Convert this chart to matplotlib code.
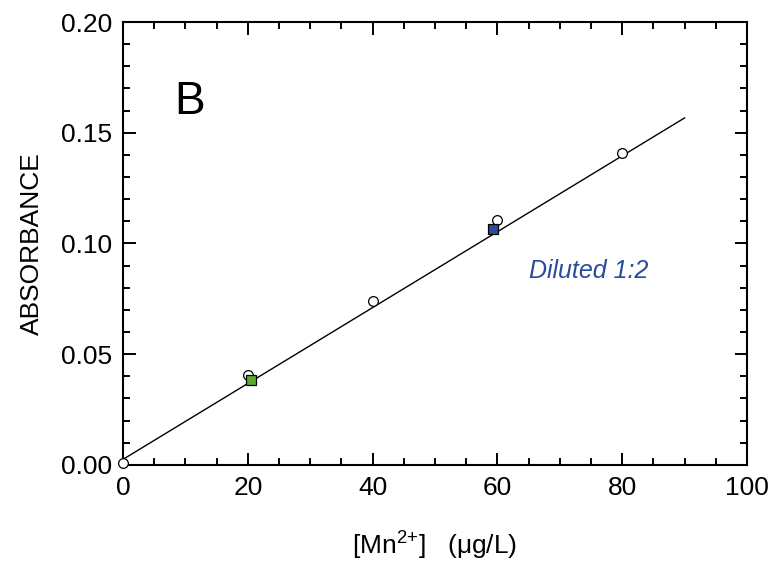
import numpy as np
import matplotlib.pyplot as plt
from matplotlib.ticker import MultipleLocator

plt.rcParams['font.family'] = ['Liberation Sans', 'DejaVu Sans']
plt.rcParams['mathtext.fontset'] = 'custom'
plt.rcParams['mathtext.rm'] = 'Liberation Sans'

# Calibration standards (open circles)
std_conc = [0, 20, 40, 60, 80]
std_abs = [0.001, 0.0405, 0.0742, 0.1106, 0.1408]

# Samples (squares)
green_conc = [20.5]
green_abs = [0.0384]
blue_conc = [59.3]
blue_abs = [0.1066]

# Fitted line end points
fit_x = [0, 90]
fit_y = [0.0025, 0.1567]

fig = plt.figure(figsize=(7.69, 5.69), dpi=100)
ax = fig.add_axes([0.16, 0.183, 0.8114, 0.7783])

ax.plot(fit_x, fit_y, color='black', lw=1.0, zorder=2)
ax.plot(std_conc, std_abs, 'o', ms=7, mfc='white', mec='black', mew=0.9,
        clip_on=False, zorder=3)
ax.plot(green_conc, green_abs, 's', ms=7.5, mfc='#5aab2a', mec='black', mew=0.9, zorder=4)
ax.plot(blue_conc, blue_abs, 's', ms=7.5, mfc='#2b4b9b', mec='black', mew=0.9, zorder=4)

ax.set_xlim(0, 100)
ax.set_ylim(0, 0.20)
ax.xaxis.set_major_locator(MultipleLocator(20))
ax.xaxis.set_minor_locator(MultipleLocator(5))
ax.yaxis.set_major_locator(MultipleLocator(0.05))
ax.yaxis.set_minor_locator(MultipleLocator(0.01))
ax.yaxis.set_major_formatter(plt.FormatStrFormatter('%.2f'))

ax.tick_params(which='both', direction='in', top=True, right=True, width=1.4,
               labelsize=19)
ax.tick_params(which='major', length=9, pad=8)
ax.tick_params(which='minor', length=5)
for s in ax.spines.values():
    s.set_linewidth(1.5)

ax.set_xlabel('[Mn$^{2{+}}$]   (\u03bcg/L)', fontsize=19, labelpad=20)
ax.set_ylabel('ABSORBANCE', fontsize=19, labelpad=12)

ax.text(10.7, 0.1585, 'B', fontsize=33, ha='center', va='baseline')
ax.text(65, 0.0875, 'Diluted 1:2', fontsize=18, style='italic',
        color='#2b4b9b', ha='left', va='center')

fig.savefig('out.png', dpi=100)
